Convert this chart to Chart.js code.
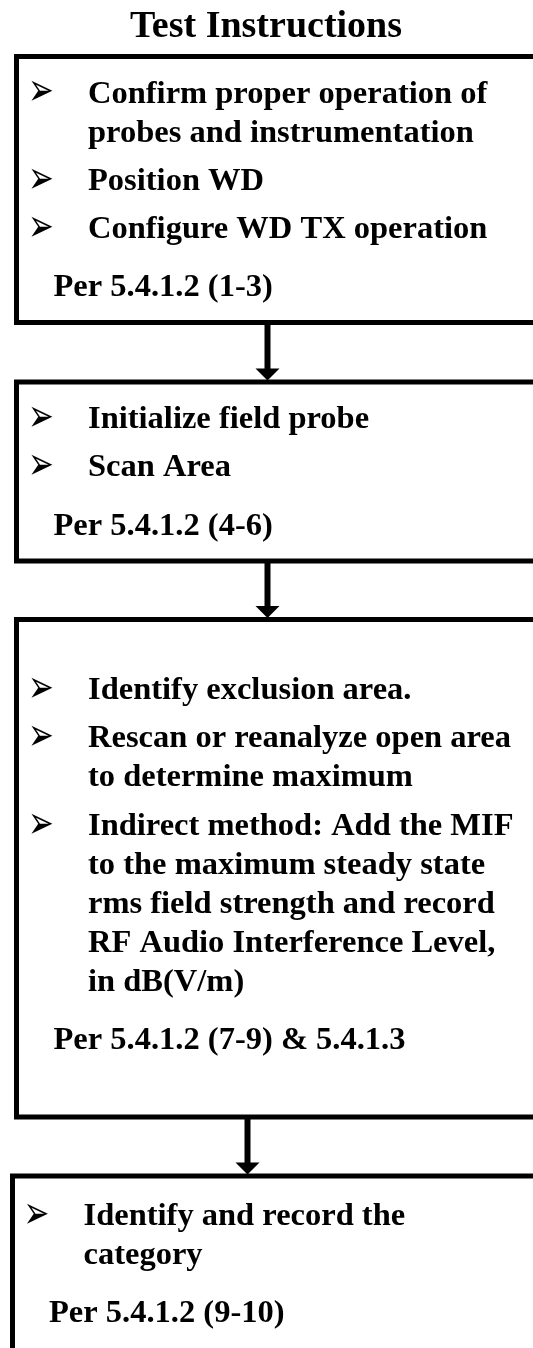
<!DOCTYPE html>
<html>
<head>
<meta charset="utf-8">
<script src="https://cdn.jsdelivr.net/npm/chart.js@4.4.1/dist/chart.umd.min.js"></script>
<style>
html,body{margin:0;padding:0;background:#fff;}
#wrap{width:533px;height:1348px;position:relative;}
canvas{display:block;}
</style>
</head>
<body>
<div id="wrap"><canvas id="c" width="533" height="1348"></canvas></div>
<script>
// ---- content ----
const chartTitle = "Test Instructions";
const step1Bullets = [["Confirm proper operation of", "probes and instrumentation"], ["Position WD"], ["Configure WD TX operation"]];
const step2Bullets = [["Initialize field probe"], ["Scan Area"]];
const step3Bullets = [["Identify exclusion area."], ["Rescan or reanalyze open area", "to determine maximum"],
  ["Indirect method: Add the MIF", "to the maximum steady state", "rms field strength and record", "RF Audio Interference Level,", "in dB(V/m)"]];
const step4Bullets = [["Identify and record the", "category"]];
const stepRefs = ["Per 5.4.1.2 (1-3)", "Per 5.4.1.2 (4-6)", "Per 5.4.1.2 (7-9) & 5.4.1.3", "Per 5.4.1.2 (9-10)"];
const stepBullets = [step1Bullets, step2Bullets, step3Bullets, step4Bullets];
const bulletGlyph = "\u27A2";

// ---- layout (page units, mapped through the chart scales) ----
const layout = {
  boxTop: [56.5, 382, 619.5, 1176],
  boxBottom: [322.5, 561, 1117, 1420],
  boxLeft: [16.5, 16.5, 16.5, 12.5],
  boxRight: 570,
  boxShift: [0, 0, 0, -4.5],
  lead: [46, 46, 79.5, 49],
  arrowX: [267.5, 267.5, 247.5],
  glyphX: 31, glyphW: 21, glyphH: 22,
  textX: 88, refX: 53.5,
  lineH: 39, bulletGap: 48.3, refGap: 58.3,
  titleX: 266, titleY: 36.5
};

const FONT = "'Liberation Serif', 'Times New Roman', serif";

const flowPlugin = {
  id: 'flow',
  beforeDraw(chart) {
    const c = chart.ctx;
    c.save();
    c.fillStyle = '#fff';
    c.fillRect(0, 0, chart.width, chart.height);
    c.restore();
  },
  afterDraw(chart) {
    const c = chart.ctx;
    const xs = chart.scales.x, ys = chart.scales.y;
    const px = v => xs.getPixelForValue(v);
    const py = v => ys.getPixelForValue(v);
    c.save();
    c.fillStyle = '#000';
    c.strokeStyle = '#000';
    c.textBaseline = 'alphabetic';
    // title
    c.font = "bold 38px " + FONT;
    c.textAlign = 'center';
    c.fillText(chartTitle, px(layout.titleX), py(layout.titleY));
    c.textAlign = 'left';
    // bullet glyph sizing
    c.font = "100px 'DejaVu Sans'";
    const m100 = c.measureText(bulletGlyph);
    const w100 = m100.actualBoundingBoxLeft + m100.actualBoundingBoxRight;
    const gSize = 100 * layout.glyphW / w100;
    c.font = gSize + "px 'DejaVu Sans'";
    const gm = c.measureText(bulletGlyph);
    const gH = gm.actualBoundingBoxAscent + gm.actualBoundingBoxDescent;
    const sy = layout.glyphH / gH;
    // boxes
    stepBullets.forEach((bullets, i) => {
      const top = layout.boxTop[i], bot = layout.boxBottom[i], left = layout.boxLeft[i];
      c.lineWidth = 5;
      c.strokeRect(px(left), py(top), px(layout.boxRight) - px(left), py(bot) - py(top));
      const sh = layout.boxShift[i];
      let y = top + layout.lead[i];
      bullets.forEach((lines, j) => {
        if (j > 0) y += layout.bulletGap;
        // glyph: bottom of its box on the baseline, stretched to glyphH
        c.save();
        c.font = gSize + "px 'DejaVu Sans'";
        c.translate(px(layout.glyphX + sh) + gm.actualBoundingBoxLeft, py(y));
        c.scale(1, sy);
        c.fillText(bulletGlyph, 0, -gm.actualBoundingBoxDescent);
        c.restore();
        c.font = "bold 32.5px " + FONT;
        lines.forEach((ln, k) => {
          if (k > 0) y += layout.lineH;
          c.fillText(ln, px(layout.textX + sh), py(y));
        });
      });
      y += layout.refGap;
      c.font = "bold 32.5px " + FONT;
      c.fillText(stepRefs[i], px(layout.refX + sh), py(y));
    });
    // connectors
    layout.arrowX.forEach((ax, i) => {
      const y0 = layout.boxBottom[i];
      const tip = layout.boxTop[i + 1] - 2.5;
      c.lineWidth = 6;
      c.beginPath();
      c.moveTo(px(ax), py(y0));
      c.lineTo(px(ax), py(tip - 8));
      c.stroke();
      c.beginPath();
      c.moveTo(px(ax - 12), py(tip - 11));
      c.lineTo(px(ax + 12), py(tip - 11));
      c.lineTo(px(ax), py(tip + 1));
      c.closePath();
      c.fill();
    });
    c.restore();
  }
};

function build() {
  new Chart(document.getElementById('c'), {
    type: 'scatter',
    data: { datasets: [] },
    options: {
      responsive: false,
      devicePixelRatio: 1,
      animation: false,
      layout: { padding: 0 },
      plugins: { legend: { display: false }, tooltip: { enabled: false }, title: { display: false } },
      scales: {
        x: { type: 'linear', min: 0, max: 533, display: false },
        y: { type: 'linear', min: 0, max: 1348, reverse: true, display: false }
      }
    },
    plugins: [flowPlugin]
  });
}
Promise.all([
  document.fonts.load("bold 32px 'Liberation Serif'"),
  document.fonts.load("24px 'DejaVu Sans'")
]).then(build, build);
</script>
</body>
</html>
